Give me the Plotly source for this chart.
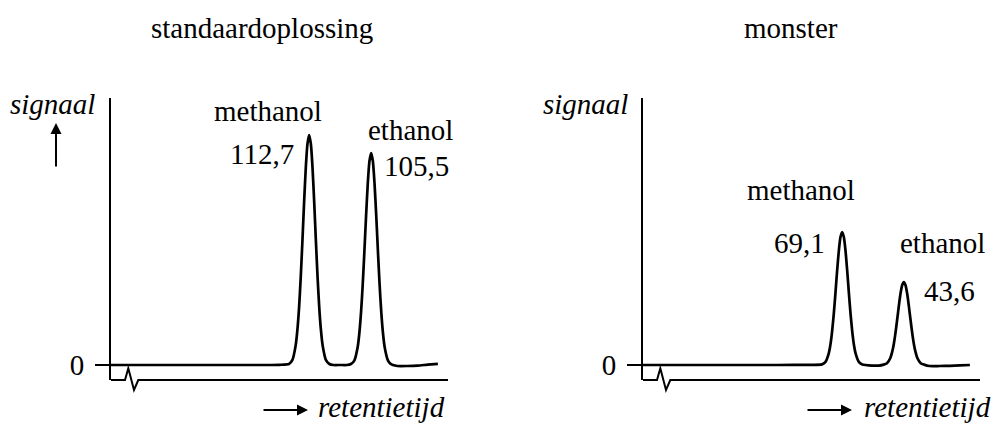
import plotly.graph_objects as go

W, H = 994, 425
FONT = "Liberation Serif"
FS = 29

# ---------------- data (retention time in arbitrary units, signal in arbitrary units)
std_time = [0, 10, 20, 30, 40, 50, 52.8, 53.8, 54.8, 55.3, 55.8, 56.3, 56.8, 57.3, 57.8, 58.3, 58.8,
            59.3, 59.8, 60.3, 60.8, 61.3, 61.8, 62.3, 62.8, 63.8, 64.8, 66, 68, 70, 71.2, 72.2, 73.2,
            73.7, 74.2, 74.7, 75.2, 75.7, 76.2, 76.7, 77.2, 77.7, 78.2, 78.7, 79.2, 79.7, 80.2, 80.7,
            81.2, 82.2, 83.2, 85, 88, 91, 94, 97]
std_signal = [0, 0, 0, 0, 0, 0.1, 0.5, 2.4, 9.8, 17.4, 28.6, 43.8, 62, 81.3, 98.6, 110.6, 115,
              110.6, 98.6, 81.3, 62, 43.8, 28.6, 17.4, 9.8, 2.4, 0.5, 0, 0, 0, 0.5, 2.2, 9.0,
              16.0, 26.4, 40.4, 57.1, 74.9, 90.8, 102, 106, 102, 90.8, 74.9, 57.1, 40.4, 26.4, 16.0,
              9.0, 2.2, 0.3, -0.5, -0.5, -0.3, 0.2, 0.6]

smp_time = [0, 10, 20, 30, 40, 50, 53.1, 54.1, 55.1, 55.6, 56.1, 56.6, 57.1, 57.6, 58.1, 58.6, 59.1,
            59.6, 60.1, 60.6, 61.1, 61.6, 62.1, 62.6, 63.1, 64.1, 65.1, 66, 68, 70, 71.4, 72.4, 73.4,
            73.9, 74.4, 74.9, 75.4, 75.9, 76.4, 76.9, 77.4, 77.9, 78.4, 78.9, 79.4, 79.9, 80.4, 80.9,
            81.4, 82.4, 83.4, 85, 88, 91, 94, 97]
smp_signal = [0, 0, 0, 0, 0, 0.1, 0.3, 1.4, 5.7, 10.0, 16.6, 25.3, 35.8, 47.0, 57.0, 64.0, 66.5,
              64.0, 57.0, 47.0, 35.8, 25.3, 16.6, 10.0, 5.7, 1.4, 0.3, 0, -0.3, -0.3, 0.2, 0.9, 3.5,
              6.3, 10.3, 15.8, 22.4, 29.3, 35.6, 39.9, 41.5, 39.9, 35.6, 29.3, 22.4, 15.8, 10.3, 6.3,
              3.5, 0.9, 0.2, -0.5, -0.5, -0.4, -0.2, 0.0]

panel_titles = ["standaardoplossing", "monster"]
peak_names = ["methanol", "ethanol"]
std_areas = ["112,7", "105,5"]
smp_areas = ["69,1", "43,6"]
y_label = "signaal"
x_label = "retentietijd"
zero_label = "0"

# ---------------- figure
fig = go.Figure()
line = dict(color="black", width=2.7, shape="spline", smoothing=0.6)
fig.add_trace(go.Scatter(x=std_time, y=std_signal, mode="lines", line=line, xaxis="x", yaxis="y",
                         hoverinfo="skip"))
fig.add_trace(go.Scatter(x=smp_time, y=smp_signal, mode="lines", line=line, xaxis="x2", yaxis="y2",
                         hoverinfo="skip"))

def px(x):
    return x / W

def py(y):
    return 1 - y / H

ydom = [py(380), py(98)]
xr = [0, 100]
yr = [-7.5, 133.5]

yax = dict(domain=ydom, range=yr, showline=True, linecolor="black", linewidth=2,
           showgrid=False, zeroline=False, ticks="outside", ticklen=14, tickwidth=2.4,
           tickcolor="black", tickvals=[0], ticktext=[zero_label], ticklabelstandoff=5,
           tickfont=dict(family=FONT, size=FS, color="black"), fixedrange=True)
xax = dict(range=xr, visible=False, showgrid=False, zeroline=False, fixedrange=True)

fig.update_layout(
    width=W, height=H, margin=dict(l=0, r=0, t=0, b=0),
    paper_bgcolor="white", plot_bgcolor="white", showlegend=False,
    xaxis=dict(domain=[px(111), px(448)], anchor="y", **xax),
    yaxis=dict(anchor="x", **yax),
    xaxis2=dict(domain=[px(643), px(980)], anchor="y2", **xax),
    yaxis2=dict(anchor="x2", **yax),
)

# lower axis line with break (decoration, paper coordinates)
for x0 in (111, 643):
    pts = [(x0, 380), (x0 + 14, 380), (x0 + 17.3, 368.3), (x0 + 23, 390), (x0 + 27.3, 380), (x0 + 337, 380)]
    path = "M " + " L ".join(f"{px(a):.5f},{py(b):.5f}" for a, b in pts)
    fig.add_shape(type="path", path=path, xref="paper", yref="paper",
                  line=dict(color="black", width=2))

ann = []
tf = dict(family=FONT, size=FS, color="black")
itf = dict(family=FONT, size=FS, color="black", style="italic")

def text(x, y, s, font=tf, xanchor="center"):
    ann.append(dict(x=px(x), y=py(y), xref="paper", yref="paper", text=s, showarrow=False,
                    xanchor=xanchor, yanchor="middle", font=font))

# titles
text(262, 28, panel_titles[0])
text(791, 28, panel_titles[1])
# y labels
text(52, 104, y_label, itf)
text(585, 104, y_label, itf)
# x labels
text(316, 407, x_label, itf, "left")
text(862, 407, x_label, itf, "left")
# peak labels, left
text(268, 111, peak_names[0])
text(262, 154, std_areas[0])
text(410, 130, peak_names[1])
text(416, 166, std_areas[1])
# peak labels, right
text(801, 190, peak_names[0])
text(799, 243, smp_areas[0])
text(942, 243, peak_names[1])
text(949, 291, smp_areas[1])

# arrows
def arrow(x, y, ax, ay):
    ann.append(dict(x=px(x), y=py(y), xref="paper", yref="paper", text="", showarrow=True,
                    ax=ax, ay=ay, arrowhead=2, arrowsize=1.1, arrowwidth=2, arrowcolor="black"))

arrow(56, 123, 0, 45)
arrow(308, 410, -46, 0)
arrow(852, 410, -46, 0)

fig.update_layout(annotations=ann)
fig.write_html("out.html", config={"displayModeBar": False},
               post_script="document.body.style.margin='0px';document.body.style.padding='0px';")
